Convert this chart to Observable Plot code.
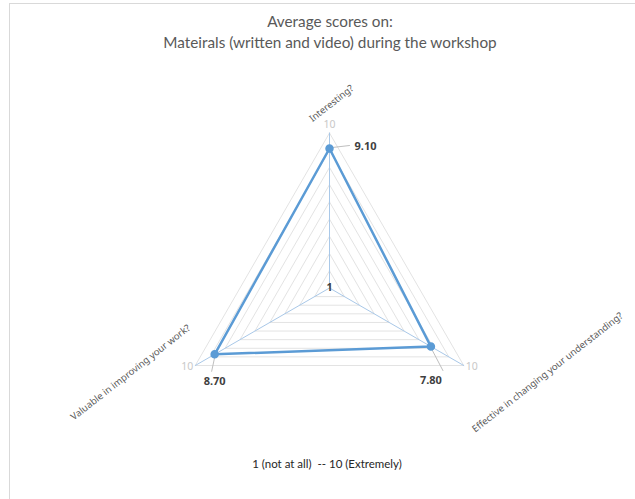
<!DOCTYPE html>
<html>
<head>
<meta charset="utf-8">
<script src="https://cdn.jsdelivr.net/npm/d3@7"></script>
<script src="https://cdn.jsdelivr.net/npm/@observablehq/plot@0.6"></script>
<style>
  html, body { margin: 0; padding: 0; background: #fff; }
  #wrap { position: relative; width: 635px; height: 499px; overflow: hidden; font-family: Lato, "Open Sans", sans-serif; }
  #frame { position: absolute; left: 9px; top: 3px; width: 640px; height: 520px; border-left: 1px solid #d9d9d9; border-top: 1px solid #d9d9d9; box-sizing: border-box; }
  #title { position: absolute; left: 0; width: 660px; top: 11px; text-align: center; color: #595959; font-size: 15.3px; line-height: 21px; }
  #caption { position: absolute; left: 0; width: 654px; top: 457px; text-align: center; color: #262626; font-size: 11.5px; }
  #chart { position: absolute; left: 0; top: 0; }
</style>
</head>
<body>
<div id="wrap">
  <div id="frame"></div>
  <div id="chart"></div>
  <div id="title">Average scores on:<br>Mateirals (written and video) during the workshop</div>
  <div id="caption">1 (not at all) &nbsp;-- 10 (Extremely)</div>
</div>
<script>
// ---- data ----
const axesNames = ["Interesting?", "Effective in changing your understanding?", "Valuable in improving your work?"];
const scores = [9.10, 7.80, 8.70];
const scoreLabels = ["9.10", "7.80", "8.70"];
const ringLevels = [2, 3, 4, 5, 6, 7, 8, 9, 10];
const scaleMin = 1, scaleMax = 10;
const tickLabels = ["1", "10"];

// ---- layout ----
const W = 635, H = 499;
const cx = 329, cy = 287.5, R = 155;     // pixel center and outer radius
const s = R / (scaleMax - scaleMin);      // px per unit
const angles = [90, -30, 210].map(d => d * Math.PI / 180);
const pt = (i, v) => ({x: (v - scaleMin) * Math.cos(angles[i]), y: (v - scaleMin) * Math.sin(angles[i])});
const off = (i, v, dx, dy) => { const p = pt(i, v); return {x: p.x + dx / s, y: p.y - dy / s}; };

// rings
const ringData = [];
for (const lv of ringLevels) {
  for (let k = 0; k <= 3; k++) ringData.push({lv, ...pt(k % 3, lv)});
}
// spokes
const spokeData = [];
axesNames.forEach((a, i) => { spokeData.push({a, ...pt(i, scaleMin)}); spokeData.push({a, ...pt(i, scaleMax)}); });
// series
const seriesData = [0, 1, 2, 0].map(i => pt(i, scores[i]));
const pointData = scores.map((v, i) => pt(i, v));
// axis labels (rotated)
const labelOffsets = [[2, -184.5], [218, 84.5], [-199, 84.5]];
const axisLabelData = axesNames.map((a, i) => ({a, x: labelOffsets[i][0] / s, y: -labelOffsets[i][1] / s}));
// tick labels "10"
const tickOff = [[0, -8, "middle"], [2, 1, "start"], [-2, 1, "end"]];
const tick10 = axesNames.map((a, i) => ({t: tickLabels[1], anchor: tickOff[i][2], ...off(i, scaleMax, tickOff[i][0], tickOff[i][1])}));
// data labels
const dlOff = [[25, -2, "start"], [0, 34, "middle"], [0, 27, "middle"]];
const dataLabelData = scores.map((v, i) => ({t: scoreLabels[i], anchor: dlOff[i][2], ...off(i, v, dlOff[i][0], dlOff[i][1])}));
// leader lines
const leaderOff = [[[3, -1], [20, -3]], [[1, 3], [12, 24]], [[0, 3], [-3, 17]]];
const leaderData = [];
scores.forEach((v, i) => leaderOff[i].forEach(o => leaderData.push({i, ...off(i, v, o[0], o[1])})));

const tickStyle = {x: "x", y: "y", text: "t", fontSize: 10.5, fill: "#c8c8c8", lineAnchor: "middle"};
const dlStyle = {x: "x", y: "y", text: "t", fontSize: 11, fontWeight: "bold", fill: "#404040", lineAnchor: "middle"};

const chart = Plot.plot({
  width: W, height: H, margin: 0,
  x: {domain: [-cx / s, (W - cx) / s], axis: null},
  y: {domain: [-(H - cy) / s, cy / s], axis: null},
  marks: [
    Plot.line(ringData, {x: "x", y: "y", z: "lv", stroke: "#e3e3e3", strokeWidth: 1}),
    Plot.line(spokeData, {x: "x", y: "y", z: "a", stroke: "#a9c8e8", strokeWidth: 1}),
    Plot.line(leaderData, {x: "x", y: "y", z: "i", stroke: "#bfbfbf", strokeWidth: 1}),
    Plot.line(seriesData, {x: "x", y: "y", stroke: "#5b9bd5", strokeWidth: 2.5, strokeLinejoin: "round"}),
    Plot.dot(pointData, {x: "x", y: "y", r: 3.5, fill: "#5b9bd5", stroke: "#5b9bd5"}),
    Plot.text(axisLabelData, {x: "x", y: "y", text: "a", rotate: -38, fontSize: 9.5, fill: "#595959", textAnchor: "middle", lineAnchor: "middle"}),
    Plot.text(tick10.filter(d => d.anchor === "middle"), {...tickStyle, textAnchor: "middle"}),
    Plot.text(tick10.filter(d => d.anchor === "start"), {...tickStyle, textAnchor: "start"}),
    Plot.text(tick10.filter(d => d.anchor === "end"), {...tickStyle, textAnchor: "end"}),
    Plot.text([{t: tickLabels[0], ...pt(0, scaleMin)}], {x: "x", y: "y", text: "t", fontSize: 10.5, fontWeight: "bold", fill: "#404040", lineAnchor: "middle"}),
    Plot.text(dataLabelData.filter(d => d.anchor === "start"), {...dlStyle, textAnchor: "start"}),
    Plot.text(dataLabelData.filter(d => d.anchor === "middle"), {...dlStyle, textAnchor: "middle"})
  ]
});
document.getElementById("chart").appendChild(chart);
</script>
</body>
</html>
